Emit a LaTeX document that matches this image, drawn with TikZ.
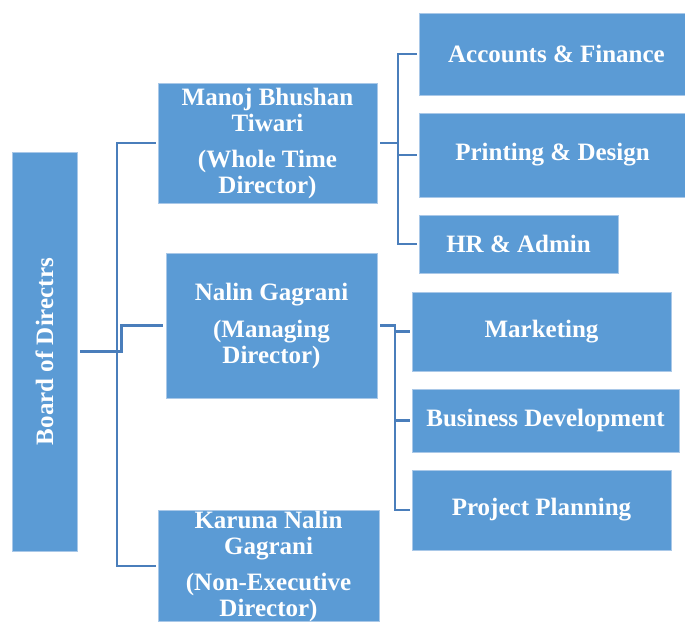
\documentclass[tikz,border=0pt]{standalone}
\usepackage{fontspec}
\setmainfont{Liberation Serif}
\definecolor{boxfill}{HTML}{5B9BD5}
\definecolor{boxedge}{HTML}{A9C8E8}
\definecolor{linkcol}{HTML}{4A7EBB}
\tikzset{
  orgbox/.style={fill=boxfill, draw=boxedge, line width=0.8pt, inner sep=0pt,
    text=white, align=center, font=\fontsize{25}{26}\selectfont\bfseries},
  link/.style={draw=linkcol, line width=2.2pt}
}
\begin{document}
\begin{tikzpicture}[x=1pt,y=-1pt]
\useasboundingbox (0,0) rectangle (685,622);
\node[orgbox, minimum width=65pt, minimum height=399pt] (board) at (44.5,351.5)
  {\rotatebox{90}{Board of Directrs}};
\node[orgbox, minimum width=219pt, minimum height=120pt] (manoj) at (267.5,143)
  {Manoj Bhushan\\Tiwari\\[10pt](Whole Time\\Director)};
\node[orgbox, minimum width=211pt, minimum height=145pt] (nalin) at (271.5,325.5)
  {Nalin Gagrani\\[11pt](Managing\\Director)};
\node[orgbox, minimum width=221pt, minimum height=108pt] (karuna) at (268.5,566)
  {Karuna Nalin\\Gagrani\\[10pt](Non-Executive\\Director)};
\node[orgbox, minimum width=275pt, minimum height=82pt] (accounts) at (556.5,54) {Accounts \& Finance};
\node[orgbox, minimum width=267pt, minimum height=84pt] (printing) at (552.5,155) {Printing \& Design};
\node[orgbox, minimum width=199pt, minimum height=58pt] (hr) at (518.5,244) {HR \& Admin};
\node[orgbox, minimum width=259pt, minimum height=79pt] (marketing) at (541.5,331.5) {Marketing};
\node[orgbox, minimum width=267pt, minimum height=63pt] (business) at (545.5,420.5) {Business Development};
\node[orgbox, minimum width=259pt, minimum height=80pt] (project) at (541.5,510) {Project Planning};

% board to directors
\coordinate (spine) at (117,0);
\draw[link] ([xshift=-2pt]manoj.west) -| (spine |- karuna.west) -- ([xshift=-2pt]karuna.west);
\draw[link] ([xshift=3pt]board.east) -- ++(41,0) |- ([xshift=-3pt]nalin.west);

% Manoj to departments
\coordinate (mspine) at (398,0);
\draw[link] ([xshift=3pt]manoj.east) -- (mspine |- manoj.east);
\draw[link] ([xshift=-2pt]accounts.west) -| (mspine |- hr.west) -- ([xshift=-2pt]hr.west);
\draw[link] (mspine |- printing.west) -- ([xshift=-2pt]printing.west);

% Nalin to departments
\coordinate (nspine) at (395,0);
\draw[link] ([xshift=3pt]nalin.east) -| (nspine |- project.west) -- ([xshift=-2pt]project.west);
\draw[link] (nspine |- marketing.west) -- ([xshift=-2pt]marketing.west);
\draw[link] (nspine |- business.west) -- ([xshift=-2pt]business.west);
\end{tikzpicture}
\end{document}
